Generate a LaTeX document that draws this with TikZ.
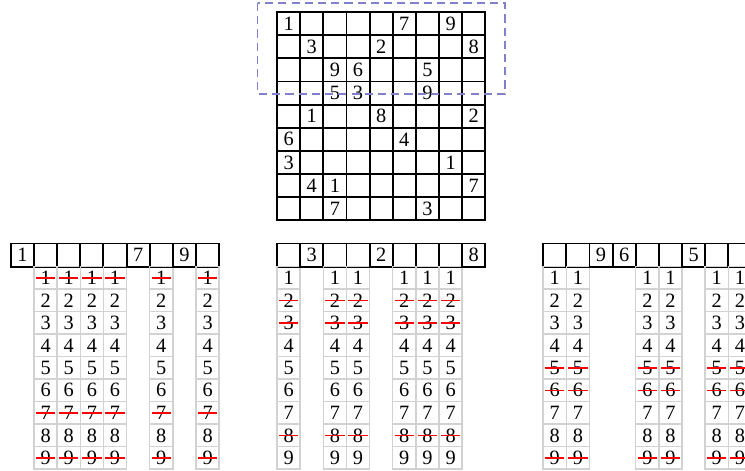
\documentclass[tikz,border=0pt]{standalone}
\usepackage{fontspec}
\setmainfont{Liberation Serif}
\usepackage{xcolor}
\usepackage{tikz}
\usetikzlibrary{positioning}
\definecolor{framecol}{rgb}{0.5,0.5,0.8}

\begin{document}
\begin{tikzpicture}[
    x=0.4cm, y=0.4cm,
    cell/.style={rectangle, draw, line width=0.95pt, minimum size=0.4cm, inner sep=0pt, font=\normalsize},
    cand/.style={rectangle, draw=gray!35, line width=0.7pt, minimum width=0.4cm, minimum height=0.389cm, inner sep=0pt, font=\normalsize},
    strike/.style={red, line width=0.75pt},
    frame/.style={framecol, dash pattern=on 4pt off 2.5pt, line width=0.75pt}
]

\useasboundingbox (-11.97,0.52) rectangle (20.22,-19.83);
\clip (-11.97,0.52) rectangle (20.22,-19.83);

% Puzzle grid
\foreach \row [count=\r] in {{1,0,0,0,0,7,0,9,0},{0,3,0,0,2,0,0,0,8},{0,0,9,6,0,0,5,0,0},{0,0,5,3,0,0,9,0,0},{0,1,0,0,8,0,0,0,2},{6,0,0,0,0,4,0,0,0},{3,0,0,0,0,0,0,1,0},{0,4,1,0,0,0,0,0,7},{0,0,7,0,0,0,3,0,0}}
    \foreach \v [count=\c] in \row
        \node[cell] (grid_\r_\c) at (\c-0.5, 0.5-\r) {\ifnum\v>0 \v\fi};

% First three rows
\draw[frame] ([shift={(-0.8,0.35)}]grid_1_1.north west) rectangle ([shift={(0.8,-0.5)}]grid_3_9.south east);

% Rows with their candidates
\foreach \k/\dx/\row/\used in {a/-11.5/{1,0,0,0,0,7,0,9,0}/{1,7,9}, b/0/{0,3,0,0,2,0,0,0,8}/{2,3,8}, c/11.5/{0,0,9,6,0,0,5,0,0}/{5,6,9}}
    \foreach \v [count=\c] in \row {
        \node[cell] (row_\k_\c) at (\dx+\c-0.5, -10.5) {\ifnum\v>0 \v\fi};
        \ifnum\v=0
            \foreach \d in {1,...,9}
                \node[cand] (cand_\k_\c_\d) at (\dx+\c-0.5, -10.514-0.972*\d) {\d};
            \foreach \u in \used
                \draw[strike] ([xshift=1.3pt]cand_\k_\c_\u.west) -- ([xshift=-1.3pt]cand_\k_\c_\u.east);
        \fi
    }

\end{tikzpicture}
\end{document}
